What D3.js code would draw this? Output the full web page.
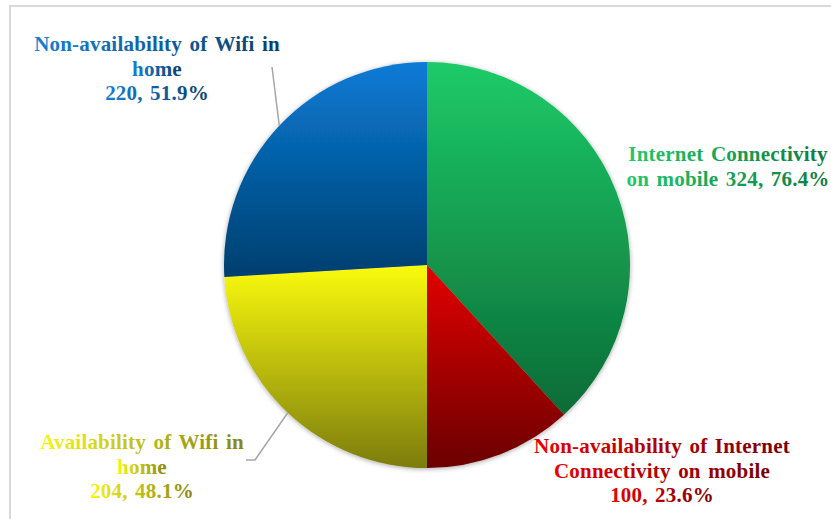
<!DOCTYPE html>
<html>
<head>
<meta charset="utf-8">
<script src="https://cdn.jsdelivr.net/npm/d3@7"></script>
<style>
  html, body { margin: 0; padding: 0; background: #ffffff; }
  svg { display: block; }
  .lbl { font-family: "Liberation Serif", "Times New Roman", serif; font-weight: bold; font-size: 21px; letter-spacing: 0.2px; word-spacing: 2px; }
</style>
</head>
<body>
<div id="chart"></div>
<script>
// Internet access survey: counts per category, drawn clockwise from 12 o'clock
const categories = [
  "Internet Connectivity on mobile",
  "Non-availability of Internet Connectivity on mobile",
  "Availability of Wifi in home",
  "Non-availability of Wifi in home"
];
const values = [324, 100, 204, 220];
const percentLabels = ["76.4%", "23.6%", "48.1%", "51.9%"];
// label text broken into lines as printed
const labelLines = [
  ["Internet Connectivity", "on mobile 324, 76.4%"],
  ["Non-availability of Internet", "Connectivity on mobile", "100, 23.6%"],
  ["Availability of Wifi in", "home", "204, 48.1%"],
  ["Non-availability of Wifi in", "home", "220, 51.9%"]
];

// slice fill gradients (top -> bottom) and label gradients (left -> right)
const sliceStops = [
  ["#1dcb68", "#0c6b36"],
  ["#e40000", "#6a0000"],
  ["#fbfb10", "#7c7c0a"],
  ["#0a7bd6", "#003f6e"]
];
const textStops = [
  ["#22c86a", "#0e7a40"],
  ["#e80000", "#780000"],
  ["#f6f61a", "#858512"],
  ["#1680d2", "#0a3e6c"]
];

const W = 831, H = 519;
const cx = 427, cy = 265, R = 203;

// label anchor (centre x, first baseline y), leader line for outside labels
const labelLayout = [
  { x: 728, y: 161, leader: null },
  { x: 662, y: 453, leader: null },
  { x: 142, y: 449, leader: { x: 255, y: 460, hx: 246 } },
  { x: 157, y: 51,  leader: { x: 272, y: 67, hx: null } }
];
const lineGap = 24.6;

const svg = d3.select("#chart").append("svg")
  .attr("width", W).attr("height", H);

// frame
svg.append("rect")
  .attr("x", 10).attr("y", 6)
  .attr("width", W + 20).attr("height", H + 20)
  .attr("fill", "#ffffff")
  .attr("stroke", "#d9d9d9").attr("stroke-width", 2);

const defs = svg.append("defs");

sliceStops.forEach((s, i) => {
  const g = defs.append("linearGradient")
    .attr("id", "slice" + i)
    .attr("x1", 0).attr("y1", 0).attr("x2", 0).attr("y2", 1);
  g.append("stop").attr("offset", "0%").attr("stop-color", s[0]);
  g.append("stop").attr("offset", "100%").attr("stop-color", s[1]);
});
textStops.forEach((s, i) => {
  const g = defs.append("linearGradient")
    .attr("id", "text" + i)
    .attr("x1", 0).attr("y1", 0).attr("x2", 1).attr("y2", 0);
  g.append("stop").attr("offset", "0%").attr("stop-color", s[0]);
  g.append("stop").attr("offset", "100%").attr("stop-color", s[1]);
});

const shadow = defs.append("filter").attr("id", "pieShadow")
  .attr("x", "-10%").attr("y", "-10%").attr("width", "120%").attr("height", "120%");
shadow.append("feDropShadow")
  .attr("dx", 0).attr("dy", 1).attr("stdDeviation", 2.5)
  .attr("flood-color", "#000000").attr("flood-opacity", 0.35);

const pie = d3.pie().sort(null).value(d => d)
  .startAngle(0).endAngle(2 * Math.PI);
const arcs = pie(values);
const arc = d3.arc().innerRadius(0).outerRadius(R);
const edge = d3.arc().innerRadius(R).outerRadius(R);

const g = svg.append("g").attr("transform", `translate(${cx},${cy})`);
const slices = g.append("g").attr("filter", "url(#pieShadow)");
slices.selectAll("path")
  .data(arcs)
  .join("path")
  .attr("d", arc)
  .attr("fill", (d, i) => `url(#slice${i})`);

// leader lines from mid-angle on the rim to the label
arcs.forEach((d, i) => {
  const L = labelLayout[i].leader;
  if (!L) return;
  const [ex, ey] = edge.centroid(d);
  const pts = [[cx + ex, cy + ey], [L.x, L.y]];
  if (L.hx !== null) pts.push([L.hx, L.y]);
  svg.append("path")
    .attr("d", d3.line()(pts))
    .attr("fill", "none")
    .attr("stroke", "#a6a6a6")
    .attr("stroke-width", 1.5);
});

// labels, one text element per line so each carries its own gradient
labelLines.forEach((lines, i) => {
  const pos = labelLayout[i];
  lines.forEach((t, k) => {
    svg.append("text")
      .attr("class", "lbl")
      .attr("x", pos.x)
      .attr("y", pos.y + k * lineGap)
      .attr("text-anchor", "middle")
      .attr("fill", `url(#text${i})`)
      .text(t);
  });
});
</script>
</body>
</html>
